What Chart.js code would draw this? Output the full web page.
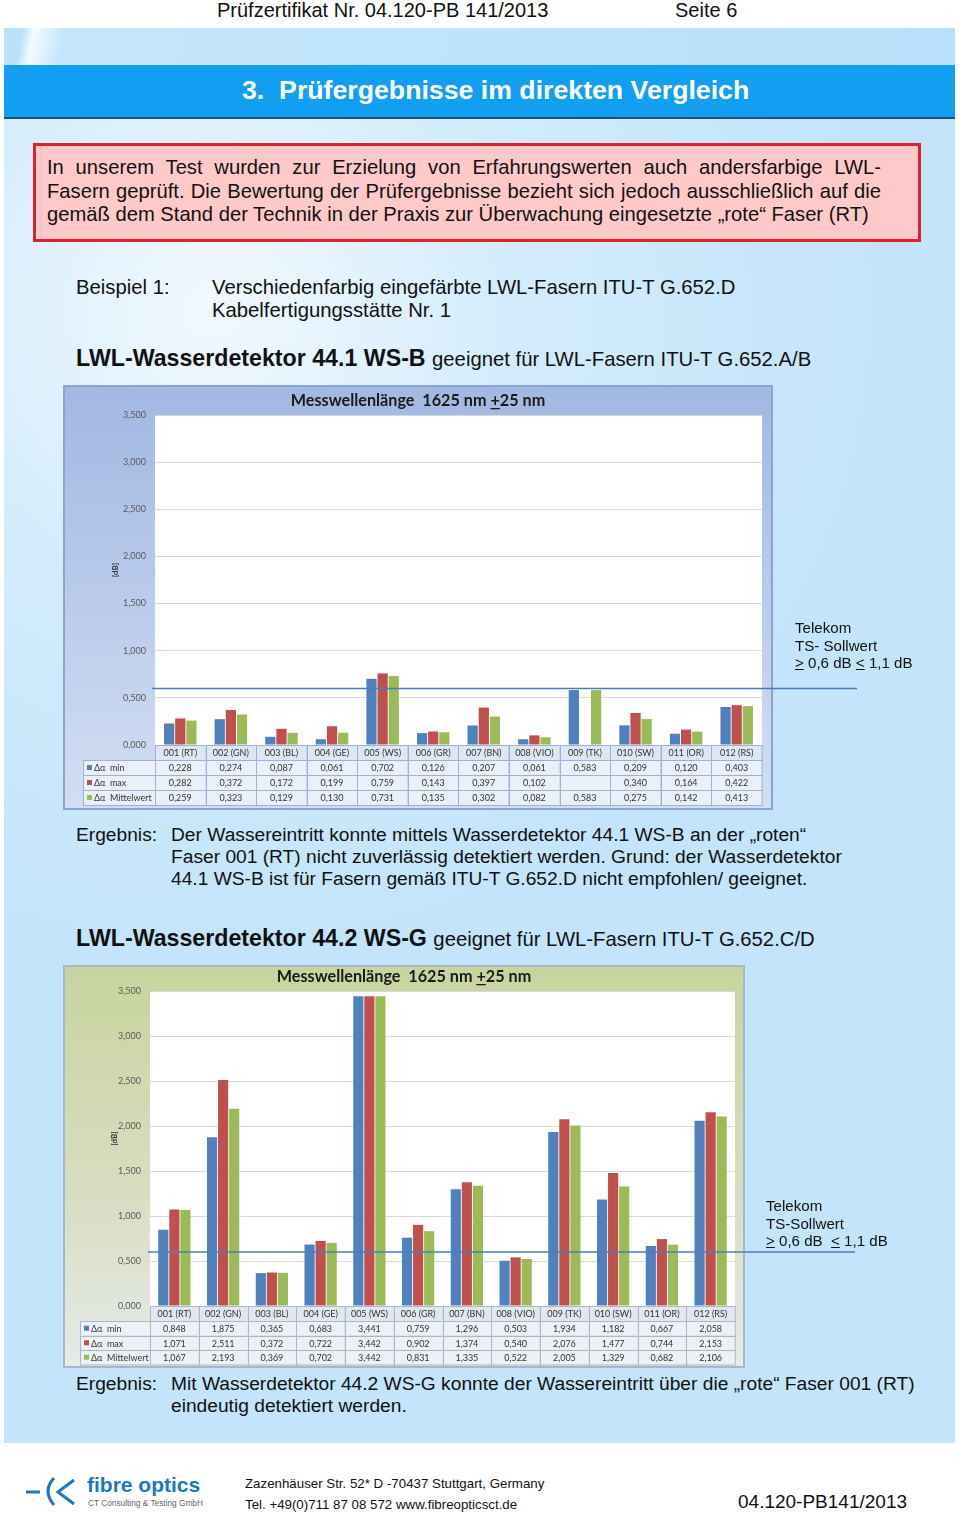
<!DOCTYPE html>
<html>
<head>
<meta charset="utf-8">
<script src="https://cdn.jsdelivr.net/npm/chart.js@4.4.1/dist/chart.umd.min.js"></script>
<style>
  html,body{margin:0;padding:0;}
  body{width:960px;height:1513px;position:relative;background:#fff;font-family:"Liberation Sans",Arial,sans-serif;color:#111;overflow:hidden;}
  .abs{position:absolute;white-space:nowrap;}
  #panel{position:absolute;left:4px;top:28px;width:951px;height:1415px;
    background:radial-gradient(ellipse 70% 45% at 22% 20%, #f2f9fe 0%, #d3ecfc 45%, #c3e4fa 100%);}
  #topband{position:absolute;left:4px;top:28px;width:951px;height:37px;
    background:linear-gradient(100deg,#b9e1fa 0px,#b9e1fa 18px,#f4fbff 30px,#c4e6fb 60px,#b8e0fa 100%);}
  #bluebar{position:absolute;left:4px;top:65px;width:951px;height:52px;background:#129ff2;border-bottom:2px solid #1d4f78;}
  #redbox{position:absolute;left:33px;top:143px;width:882px;height:93px;background:#ffc9c9;border:3px solid #e3212b;}
  .rl{position:absolute;left:11px;width:834px;font-size:20.2px;}
  .just{text-align:justify;text-align-last:justify;}
  canvas{position:absolute;}
</style>
</head>
<body>
<div id="panel"></div>
<div id="topband"></div>
<div id="bluebar"></div>

<div class="abs" style="left:217px;top:-1px;font-size:20px;">Prüfzertifikat Nr. 04.120-PB 141/2013</div>
<div class="abs" style="left:675px;top:-1px;font-size:20px;">Seite 6</div>
<div class="abs" style="left:242px;top:75px;font-size:26.7px;font-weight:bold;color:#fff;">3.&nbsp; Prüfergebnisse im direkten Vergleich</div>

<div id="redbox">
  <div class="rl just" style="top:10px;">In unserem Test wurden zur Erzielung von Erfahrungswerten auch andersfarbige LWL-</div>
  <div class="rl just" style="top:34px;">Fasern geprüft. Die Bewertung der Prüfergebnisse bezieht sich jedoch ausschließlich auf die</div>
  <div class="rl" style="top:57px;">gemäß dem Stand der Technik in der Praxis zur Überwachung eingesetzte „rote“ Faser (RT)</div>
</div>

<div class="abs" style="left:76px;top:276px;font-size:20.3px;">Beispiel 1:</div>
<div class="abs" style="left:212px;top:276px;font-size:20.3px;">Verschiedenfarbig eingefärbte LWL-Fasern ITU-T G.652.D</div>
<div class="abs" style="left:212px;top:299px;font-size:20.3px;">Kabelfertigungsstätte Nr. 1</div>

<div class="abs" style="left:76px;top:345px;font-size:23.2px;"><b>LWL-Wasserdetektor 44.1 WS-B</b> <span style="font-size:20.3px;">geeignet für LWL-Fasern ITU-T G.652.A/B</span></div>

<canvas id="c1" width="800" height="425" style="left:63px;top:385px;width:800px;height:425px;"></canvas>

<div class="abs" style="left:795px;top:619px;font-size:15.1px;line-height:17.5px;">Telekom<br>TS- Sollwert<br><u>&gt;</u> 0,6 dB <u>&lt;</u> 1,1 dB</div>

<div class="abs" style="left:76px;top:824px;font-size:19.2px;">Ergebnis:</div>
<div class="abs" style="left:171px;top:824px;font-size:19.2px;line-height:22px;">Der Wassereintritt konnte mittels Wasserdetektor 44.1 WS-B an der „roten“<br>Faser 001 (RT) nicht zuverlässig detektiert werden. Grund: der Wasserdetektor<br>44.1 WS-B ist für Fasern gemäß ITU-T G.652.D nicht empfohlen/ geeignet.</div>

<div class="abs" style="left:76px;top:925px;font-size:23.2px;"><b>LWL-Wasserdetektor 44.2 WS-G</b> <span style="font-size:20.3px;">geeignet für LWL-Fasern ITU-T G.652.C/D</span></div>

<canvas id="c2" width="800" height="403" style="left:63px;top:965px;width:800px;height:403px;"></canvas>

<div class="abs" style="left:766px;top:1197px;font-size:15.1px;line-height:17.5px;">Telekom<br>TS-Sollwert<br><u>&gt;</u> 0,6 dB &nbsp;<u>&lt;</u> 1,1 dB</div>

<div class="abs" style="left:76px;top:1373px;font-size:19.2px;">Ergebnis:</div>
<div class="abs" style="left:171px;top:1373px;font-size:19.2px;line-height:22px;">Mit Wasserdetektor 44.2 WS-G konnte der Wassereintritt über die „rote“ Faser 001 (RT)<br>eindeutig detektiert werden.</div>

<!-- footer -->
<svg class="abs" style="left:24px;top:1474px;" width="56" height="34" viewBox="0 0 56 34">
  <line x1="2" y1="18" x2="16" y2="18" stroke="#1b77c5" stroke-width="3"/>
  <path d="M30 4 Q18 17 30 31" fill="none" stroke="#1b77c5" stroke-width="3"/>
  <path d="M50 6 L34 18 L50 30" fill="none" stroke="#1b77c5" stroke-width="3"/>
</svg>
<div class="abs" style="left:87px;top:1473px;font-size:21px;font-weight:bold;color:#1b77c5;">fibre optics</div>
<div class="abs" style="left:88px;top:1498px;font-size:8.3px;color:#666;">CT Consulting &amp; Testing GmbH</div>
<div class="abs" style="left:245px;top:1476px;font-size:13.3px;">Zazenhäuser Str. 52* D -70437 Stuttgart, Germany</div>
<div class="abs" style="left:245px;top:1497px;font-size:13.3px;">Tel. +49(0)711 87 08 572 www.fibreopticsct.de</div>
<div class="abs" style="left:738px;top:1491px;font-size:19px;">04.120-PB141/2013</div>

<script>
// ---------- data ----------
const categories = ['001 (RT)','002 (GN)','003 (BL)','004 (GE)','005 (WS)','006 (GR)','007 (BN)','008 (VIO)','009 (TK)','010 (SW)','011 (OR)','012 (RS)'];
const seriesNames = ['\u0394\u03b1  min','\u0394\u03b1  max','\u0394\u03b1  Mittelwert'];
const c1Min  = [0.228,0.274,0.087,0.061,0.702,0.126,0.207,0.061,0.583,0.209,0.120,0.403];
const c1Max  = [0.282,0.372,0.172,0.199,0.759,0.143,0.397,0.102,null,0.340,0.164,0.422];
const c1Mean = [0.259,0.323,0.129,0.130,0.731,0.135,0.302,0.082,0.583,0.275,0.142,0.413];
const c2Min  = [0.848,1.875,0.365,0.683,3.441,0.759,1.296,0.503,1.934,1.182,0.667,2.058];
const c2Max  = [1.071,2.511,0.372,0.722,3.442,0.902,1.374,0.540,2.076,1.477,0.744,2.153];
const c2Mean = [1.067,2.193,0.369,0.702,3.442,0.831,1.335,0.522,2.005,1.329,0.682,2.106];
const yMin = 0, yMax = 3.5, yStep = 0.5;
const sollwert = 0.6;
const chartTitle = 'Messwellenlänge  1625 nm ';
const chartTitlePm = '+';
const chartTitleEnd = '25 nm';
const yTitle = '[dB]';
const colors = ['#4f81bd','#c0504d','#9bbb59'];

function fmt(v){ return v==null ? '' : v.toFixed(3).replace('.', ','); }

function makeChart(id, data, st){
  const plugin = {
    id: 'page_'+id,
    beforeDraw(chart){
      const ctx = chart.ctx, a = chart.chartArea;
      ctx.save();
      const g = ctx.createLinearGradient(0,0,0,st.frameH);
      g.addColorStop(0, st.frameTop); g.addColorStop(0.55, st.frameMid); g.addColorStop(1, st.frameBot);
      ctx.fillStyle = g;
      ctx.fillRect(0,0,st.frameW,st.frameH);
      ctx.strokeStyle = st.frameBorder; ctx.lineWidth = 2;
      ctx.strokeRect(1,1,st.frameW-2,st.frameH-2);
      ctx.fillStyle = '#ffffff';
      ctx.fillRect(a.left, a.top, a.right-a.left, a.bottom-a.top);
      // title
      ctx.font = 'bold 16.2px Lato, "Open Sans", sans-serif';
      ctx.fillStyle = '#1a1a1a';
      ctx.textBaseline = 'middle';
      const w1 = ctx.measureText(chartTitle).width, w2 = ctx.measureText(chartTitlePm).width, w3 = ctx.measureText(chartTitleEnd).width;
      let x = st.titleX - (w1+w2+w3)/2;
      ctx.textAlign = 'left';
      ctx.fillText(chartTitle, x, st.titleY); x += w1;
      ctx.fillText(chartTitlePm, x, st.titleY);
      ctx.fillRect(x, st.titleY+7, w2, 1.3); x += w2;
      ctx.fillText(chartTitleEnd, x, st.titleY);
      // y title
      ctx.save();
      ctx.translate(st.yTitleX, (a.top+a.bottom)/2 - 10);
      ctx.rotate(-Math.PI/2);
      ctx.font = 'bold 8px Lato, sans-serif';
      ctx.textAlign = 'center';
      ctx.fillStyle = '#333';
      ctx.fillText(yTitle, 0, 0);
      ctx.restore();
      ctx.restore();
    },
    afterDraw(chart){
      const ctx = chart.ctx, a = chart.chartArea, xs = chart.scales.x, ys = chart.scales.y;
      const cw = (a.right - a.left)/categories.length;
      ctx.save();
      // reference line
      const ly = ys.getPixelForValue(sollwert);
      ctx.strokeStyle = '#4a7ebb'; ctx.lineWidth = 1.5;
      ctx.beginPath(); ctx.moveTo(st.lineX0, ly); ctx.lineTo(st.lineX1, ly); ctx.stroke();
      // table
      ctx.lineWidth = 1; ctx.strokeStyle = st.tBorder;
      ctx.font = '9px Lato, "Open Sans", sans-serif';
      ctx.textBaseline = 'middle'; ctx.textAlign = 'center';
      const top = a.bottom;
      categories.forEach((c,i)=>{
        const cx = xs.getPixelForValue(i);
        ctx.fillStyle = st.tHead;
        ctx.fillRect(cx-cw/2, top, cw, st.headH);
        ctx.strokeRect(Math.round(cx-cw/2)+0.5, top+0.5, cw, st.headH);
        ctx.fillStyle = '#333';
        ctx.fillText(c, cx, top + st.headH/2 + 1);
        data.forEach((arr,r)=>{
          const ry = top + st.headH + r*st.rowH;
          ctx.fillStyle = st.tRow;
          ctx.fillRect(cx-cw/2, ry, cw, st.rowH);
          ctx.strokeRect(Math.round(cx-cw/2)+0.5, Math.round(ry)+0.5, cw, st.rowH);
          ctx.fillStyle = '#333';
          ctx.fillText(fmt(arr[i]), cx, ry + st.rowH/2 + 1);
        });
      });
      // legend column
      data.forEach((arr,r)=>{
        const ry = top + st.headH + r*st.rowH;
        const lx = st.legX, lw = a.left - st.legX;
        ctx.fillStyle = st.tRow;
        ctx.fillRect(lx, ry, lw, st.rowH);
        ctx.strokeRect(lx+0.5, Math.round(ry)+0.5, lw, st.rowH);
        ctx.fillStyle = colors[r];
        ctx.fillRect(lx+4, ry + st.rowH/2 - 2.5, 5, 5);
        ctx.fillStyle = '#333'; ctx.textAlign = 'left';
        ctx.fillText(seriesNames[r], lx+11, ry + st.rowH/2 + 1);
        ctx.textAlign = 'center';
      });
      ctx.restore();
    }
  };

  return new Chart(document.getElementById(id), {
    type: 'bar',
    data: {
      labels: categories,
      datasets: data.map((arr,i)=>({
        label: seriesNames[i], data: arr, backgroundColor: colors[i], borderWidth: 0,
        categoryPercentage: st.catPct, barPercentage: st.barPct
      }))
    },
    options: {
      responsive: false, animation: false,
      layout: { padding: { left: st.padL, right: st.padR, top: st.padT, bottom: st.padB } },
      plugins: { legend: { display: false }, tooltip: { enabled: false }, title: { display: false } },
      scales: {
        x: { display: false },
        y: {
          min: yMin, max: yMax,
          afterFit(s){ s.width = 40; },
          ticks: { stepSize: yStep, padding: 9, color: '#595959', font: { family: 'Lato', size: 9 }, callback: v => fmt(v) },
          grid: { color: '#d9d9d9', drawTicks: false },
          border: { display: false }
        }
      }
    },
    plugins: [plugin]
  });
}

makeChart('c1', [c1Min, c1Max, c1Mean], {
  frameW: 710, frameH: 425, frameTop: '#a2b8e2', frameMid: '#bccdec', frameBot: '#d3def2', frameBorder: '#8aa3cf',
  padL: 52, padR: 101, padT: 30, padB: 65,
  titleX: 355, titleY: 16, yTitleX: 52,
  lineX0: 89, lineX1: 794,
  headH: 15, rowH: 15, legX: 20,
  tHead: '#dde6f3', tRow: '#eaf0f8', tBorder: '#9db1d6',
  catPct: 0.66, barPct: 0.92
});
makeChart('c2', [c2Min, c2Max, c2Mean], {
  frameW: 682, frameH: 403, frameTop: '#c8d49e', frameMid: '#d7ddc0', frameBot: '#e6eaea', frameBorder: '#a7b6c8',
  padL: 47, padR: 128, padT: 26, padB: 62,
  titleX: 341, titleY: 12, yTitleX: 51,
  lineX0: 85, lineX1: 792,
  headH: 15, rowH: 14.5, legX: 17,
  tHead: '#e0e7ee', tRow: '#edf1f5', tBorder: '#a9b8c8',
  catPct: 0.68, barPct: 0.92
});
</script>
</body>
</html>
